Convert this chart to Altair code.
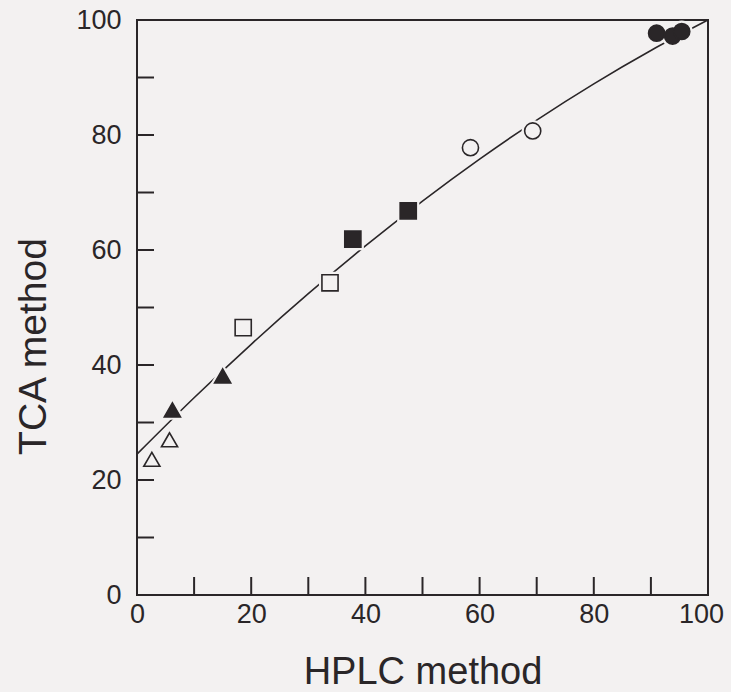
import altair as alt
import pandas as pd

# ---- data ----
hplc = [2.6, 5.7, 6.2, 15.0, 18.6, 33.8, 37.8, 47.5, 58.4, 69.3, 91.0, 93.8, 95.4]
tca = [23.6, 27.0, 32.2, 38.1, 46.5, 54.3, 61.9, 66.8, 77.8, 80.7, 97.7, 97.2, 98.0]
group = ["A", "A", "B", "B", "C", "C", "D", "D", "E", "E", "F", "F", "F"]

curve_x = [0, 10, 20, 30, 40, 50, 60, 70, 80, 90, 100]
curve_y = [24.5, 34.3, 43.6, 52.4, 60.7, 68.5, 75.8, 82.6, 88.9, 94.7, 100.0]

tick_minor = [10, 20, 30, 40, 50, 60, 70, 80, 90]
tick_labels = [0, 20, 40, 60, 80, 100]

groups = ["A", "B", "C", "D", "E", "F"]
shapes = ["triangle-up", "triangle-up", "square", "square", "circle", "circle"]

BG = "#f3f1f1"
INK = "#2a2628"
fills = [BG, INK, BG, INK, BG, INK]
sizes = [260, 260, 190, 190, 230, 260]

PW, PH = 571, 575
FONT = "Liberation Sans"

pts = pd.DataFrame({"hplc": hplc, "tca": tca, "group": group})
curve = pd.DataFrame({"x": curve_x, "y": curve_y})
ticks = pd.DataFrame({"v": tick_minor})

xscale = alt.Scale(domain=[0, 100], nice=False, zero=False)
yscale = alt.Scale(domain=[0, 100], nice=False, zero=False)

xaxis = alt.Axis(
    values=tick_labels, format="d", grid=False, domain=False, ticks=False, tickSize=0,
    labelFontSize=27, labelColor=INK, labelFont=FONT, labelPadding=6,
    labelFlush=False, labelOverlap=False,
    labelOffset={"condition": {"test": "datum.value == 100", "value": -7}, "value": 0},
    title="HPLC method", titleFontSize=38, titleFont=FONT,
    titleFontWeight="normal", titleColor=INK, titleY=88, titleBaseline="alphabetic",
)
yaxis = alt.Axis(
    values=tick_labels, format="d", grid=False, domain=False, ticks=False, tickSize=0,
    labelFontSize=27, labelColor=INK, labelFont=FONT, labelPadding=16,
    labelFlush=False, labelOverlap=False,
    title="TCA method", titleFontSize=39, titleFont=FONT,
    titleFontWeight="normal", titleColor=INK, titleAngle=270, titleX=-92, titleY=326,
    titleAlign="center", titleBaseline="alphabetic",
)

line = alt.Chart(curve).mark_line(interpolate="monotone", color=INK, strokeWidth=1.6).encode(
    x=alt.X("x:Q", scale=xscale, axis=xaxis),
    y=alt.Y("y:Q", scale=yscale, axis=yaxis),
)

shape_enc = alt.Shape("group:N", scale=alt.Scale(domain=groups, range=shapes), legend=None)
size_enc = alt.Size("group:N", scale=alt.Scale(domain=groups, range=sizes), legend=None)

halo = alt.Chart(pts).mark_point(filled=True, color=BG, stroke=BG, strokeWidth=6, opacity=1).encode(
    x=alt.X("hplc:Q", scale=xscale),
    y=alt.Y("tca:Q", scale=yscale),
    shape=shape_enc,
    size=size_enc,
)

markers = alt.Chart(pts).mark_point(filled=True, stroke=INK, strokeWidth=1.6, opacity=1).encode(
    x=alt.X("hplc:Q", scale=xscale),
    y=alt.Y("tca:Q", scale=yscale),
    shape=shape_enc,
    size=size_enc,
    fill=alt.Fill("group:N", scale=alt.Scale(domain=groups, range=fills), legend=None),
)

xticks = alt.Chart(ticks).mark_rule(color=INK, strokeWidth=2).encode(
    x=alt.X("v:Q", scale=xscale),
    y=alt.value(PH),
    y2=alt.value(PH - 18),
)
yticks = alt.Chart(ticks).mark_rule(color=INK, strokeWidth=2).encode(
    y=alt.Y("v:Q", scale=yscale),
    x=alt.value(0),
    x2=alt.value(17),
)

chart = alt.layer(line, xticks, yticks, halo, markers).properties(
    width=PW, height=PH,
    autosize=alt.AutoSizeParams(type="none"),
    padding={"left": 137, "top": 20, "right": 23, "bottom": 97},
    background=BG,
).configure_view(stroke=INK, strokeWidth=2)

chart.save("out.html", embed_options={"renderer": "svg", "actions": False})
